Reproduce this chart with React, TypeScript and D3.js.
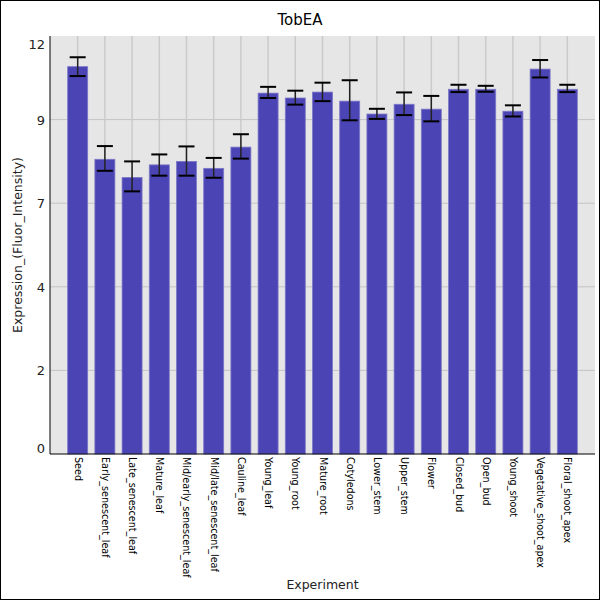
import React from "react";
import * as d3 from "d3";

const categories = [
  "Seed",
  "Early_senescent_leaf",
  "Late_senescent_leaf",
  "Mature_leaf",
  "Mid/early_senescent_leaf",
  "Mid/late_senescent_leaf",
  "Cauline_leaf",
  "Young_leaf",
  "Young_root",
  "Mature_root",
  "Cotyledons",
  "Lower_stem",
  "Upper_stem",
  "Flower",
  "Closed_bud",
  "Open_bud",
  "Young_shoot",
  "Vegetative_shoot_apex",
  "Floral_shoot_apex",
];
const means = [
  11.12, 8.46, 7.94, 8.3, 8.4, 8.2, 8.81, 10.36, 10.22, 10.39, 10.13, 9.76,
  10.04, 9.9, 10.47, 10.47, 9.84, 11.05, 10.47,
];
const errLow = [
  10.85, 8.13, 7.54, 7.99, 7.99, 7.93, 8.48, 10.22, 10.03, 10.13, 9.58, 9.62,
  9.73, 9.55, 10.39, 10.4, 9.69, 10.81, 10.39,
];
const errHigh = [
  11.39, 8.84, 8.4, 8.6, 8.83, 8.5, 9.18, 10.54, 10.43, 10.66, 10.73, 9.91,
  10.38, 10.28, 10.6, 10.57, 10.01, 11.31, 10.6,
];
const yTickValues = [0, 2.4, 4.8, 7.2, 9.6, 12];
const yTickLabels = ["0", "2", "4", "7", "9", "12"];

const W = 600;
const H = 600;
const plot = { left: 50, right: 595, top: 36, bottom: 454 };
const font = "'DejaVu Sans', sans-serif";

export default function App() {
  const x = d3
    .scaleBand()
    .domain(categories)
    .range([plot.left, plot.right])
    .paddingInner(0.265)
    .paddingOuter(0.65);
  const y = d3.scaleLinear().domain([0, 12]).range([plot.bottom, plot.top]);
  const bw = x.bandwidth();
  const capW = 16;

  return (
    <div style={{ position: "absolute", left: 0, top: 0 }}>
      <svg width={W} height={H} style={{ display: "block", fontFamily: font }}>
        <rect x={0} y={0} width={W} height={H} fill="#fff" />
        <rect
          x={plot.left}
          y={plot.top}
          width={plot.right - plot.left}
          height={plot.bottom - plot.top}
          fill="#e6e6e6"
        />
        {/* grid */}
        {yTickValues.slice(1, -1).map((t) => (
          <line
            key={"h" + t}
            x1={plot.left}
            x2={plot.right}
            y1={y(t)}
            y2={y(t)}
            stroke="#c4c4c4"
            strokeWidth={1}
          />
        ))}
        {categories.map((c) => (
          <line
            key={"v" + c}
            x1={x(c)! + bw / 2}
            x2={x(c)! + bw / 2}
            y1={plot.top}
            y2={plot.bottom}
            stroke="#cbcbcb"
            strokeWidth={1.5}
          />
        ))}
        {/* bars */}
        {categories.map((c, i) => (
          <rect
            key={"b" + c}
            x={x(c)!}
            y={y(means[i])}
            width={bw}
            height={plot.bottom - y(means[i])}
            fill="#4b44b4"
            stroke="#7d78c8"
            strokeWidth={0.8}
          />
        ))}
        {/* error bars */}
        {categories.map((c, i) => {
          const cx = x(c)! + bw / 2;
          return (
            <g key={"e" + c}>
              <line
                x1={cx}
                x2={cx}
                y1={y(errHigh[i])}
                y2={y(errLow[i])}
                stroke="#222"
                strokeWidth={1.5}
              />
              <line
                x1={cx - capW / 2}
                x2={cx + capW / 2}
                y1={y(errHigh[i])}
                y2={y(errHigh[i])}
                stroke="#000"
                strokeWidth={2}
              />
              <line
                x1={cx - capW / 2}
                x2={cx + capW / 2}
                y1={y(errLow[i])}
                y2={y(errLow[i])}
                stroke="#000"
                strokeWidth={2}
              />
            </g>
          );
        })}
        {/* axes */}
        <line x1={plot.left} x2={plot.left} y1={plot.top} y2={plot.bottom} stroke="#000" />
        <line x1={plot.left} x2={plot.right} y1={plot.bottom} y2={plot.bottom} stroke="#000" />
        {yTickValues.map((t, i) => {
          let ty = y(t) + 5;
          if (i === 0) ty -= 6;
          if (i === yTickValues.length - 1) ty += 8;
          return (
            <text
              key={"yt" + t}
              x={45}
              y={ty}
              textAnchor="end"
              fontSize={13}
              fill="#222"
            >
              {yTickLabels[i]}
            </text>
          );
        })}
        {categories.map((c) => (
          <text
            key={"xt" + c}
            transform={`translate(${x(c)! + bw / 2 - 3},${plot.bottom + 3}) rotate(90)`}
            fontSize={9.6}
            fill="#000"
          >
            {c}
          </text>
        ))}
        <text x={300} y={25} textAnchor="middle" fontSize={15} fill="#000">
          TobEA
        </text>
        <text
          x={(plot.left + plot.right) / 2}
          y={589}
          textAnchor="middle"
          fontSize={12.5}
          fill="#222"
        >
          Experiment
        </text>
        <text
          transform={`translate(22,${(plot.top + plot.bottom) / 2}) rotate(-90)`}
          textAnchor="middle"
          fontSize={12.5}
          fill="#222"
        >
          Expression_(Fluor_Intensity)
        </text>
        <rect x={0.5} y={0.5} width={W - 1} height={H - 1} fill="none" stroke="#000" />
      </svg>
    </div>
  );
}
